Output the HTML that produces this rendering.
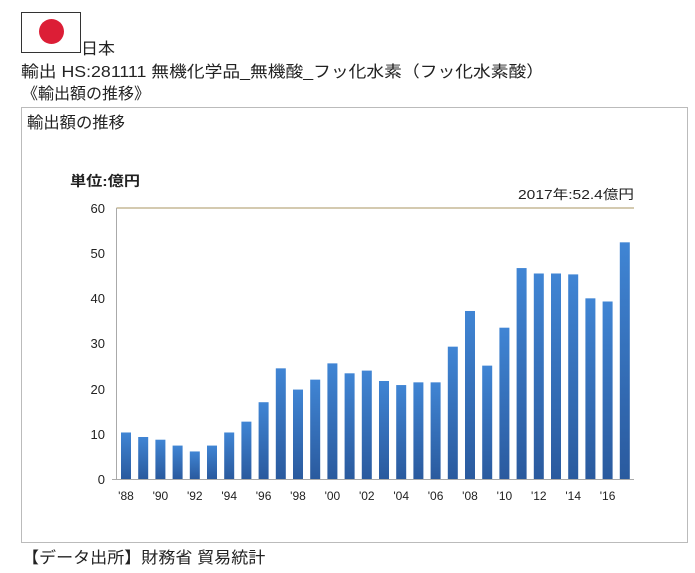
<!DOCTYPE html><html><head><meta charset="utf-8"><style>
body{margin:0;background:#fff;font-family:"Liberation Sans","Noto Sans CJK JP",sans-serif;color:#222;}
.a{position:absolute;white-space:nowrap;transform-origin:0 0}
</style></head><body>
<div class="a" style="left:21px;top:12px;width:58px;height:39px;border:1px solid #333;"></div>
<div class="a" style="left:39px;top:19px;width:25px;height:25px;border-radius:50%;background:#dc1e36;"></div>
<div class="a" style="left:81px;top:35px;font-size:16px;transform:scaleX(1.06)">日本</div>
<div class="a" style="left:21px;top:58px;font-size:16px;transform:scaleX(1.11)">輸出 HS:281111 無機化学品_無機酸_フッ化水素（フッ化水素酸）</div>
<div class="a" style="left:22px;top:80px;font-size:16px;transform:scaleX(1.0)">《輸出額の推移》</div>
<div class="a" style="left:21px;top:107px;width:665px;height:434px;border:1px solid #bbb;"></div>
<div class="a" style="left:27px;top:109px;font-size:16px;transform:scaleX(1.02)">輸出額の推移</div>
<svg class="a" style="left:0;top:0" width="695" height="573" font-family="Liberation Sans, Noto Sans CJK JP, sans-serif">
<defs><linearGradient id="g" x1="0" y1="0" x2="0" y2="1"><stop offset="0" stop-color="#4085d4"/><stop offset="1" stop-color="#2a5a9e"/></linearGradient></defs>
<text x="70" y="186" font-size="14" fill="#222" font-weight="bold" textLength="70" lengthAdjust="spacingAndGlyphs">単位:億円</text>
<text x="518" y="199" font-size="13" fill="#222" textLength="116" lengthAdjust="spacingAndGlyphs">2017年:52.4億円</text>
<line x1="116.5" y1="208" x2="634" y2="208" stroke="#a89560" stroke-width="1"/>
<line x1="116.5" y1="208" x2="116.5" y2="479" stroke="#aaa"/>
<line x1="112" y1="479.5" x2="634" y2="479.5" stroke="#aaa"/>
<g font-size="13" fill="#222" text-anchor="end">
<text x="105" y="484">0</text><text x="105" y="439">10</text><text x="105" y="394">20</text><text x="105" y="348">30</text><text x="105" y="303">40</text><text x="105" y="258">50</text><text x="105" y="213">60</text>
</g>
<g id="bars"></g>
<g font-size="12" fill="#222" text-anchor="middle" id="xl"></g>
</svg>
<div class="a" style="left:22px;top:544px;font-size:16px;transform:scaleX(1.065)">【データ出所】財務省 貿易統計</div>
<script>
var v=[10.3,9.3,8.7,7.4,6.1,7.4,10.3,12.7,17,24.5,19.8,22,25.6,23.4,24,21.7,20.8,21.4,21.4,29.3,37.2,25.1,33.5,46.7,45.5,45.5,45.3,40,39.3,52.4];
var b="",l="";
for(var i=0;i<30;i++){var x=121+i*17.2,h=v[i]*271/60;
b+='<rect x="'+x+'" y="'+(479-h)+'" width="10" height="'+h+'" fill="url(#g)"/>';
if(i%2==0)l+='<text x="'+(x+5)+'" y="500">\''+String((88+i)%100).padStart(2,"0")+'</text>';}
document.getElementById("bars").innerHTML=b;document.getElementById("xl").innerHTML=l;
</script>
</body></html>
